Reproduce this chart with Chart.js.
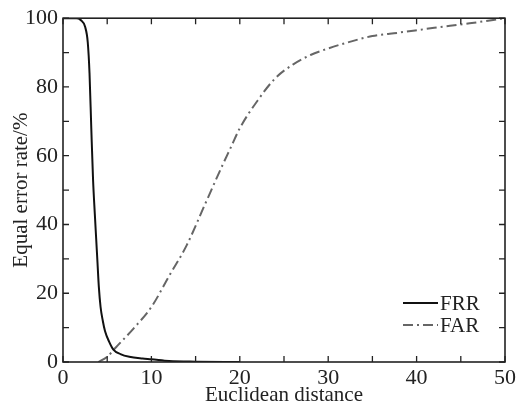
<!DOCTYPE html>
<html>
<head>
<meta charset="utf-8">
<script src="https://cdn.jsdelivr.net/npm/chart.js@4"></script>
<style>
  html, body { margin: 0; padding: 0; background: #fff; }
  #wrap { width: 519px; height: 408px; }
</style>
</head>
<body>
<div id="wrap"><canvas id="chart" width="519" height="408"></canvas></div>
<script>
// ---- data ----
const frrX = [0, 1.5, 2, 2.5, 2.8, 3.0, 3.2, 3.4, 3.6, 3.75, 3.9, 4.05, 4.25, 4.5, 4.75, 5.2, 5.7, 6.5, 7.5, 9, 10, 12, 15, 20];
const frrY = [100, 100, 99.5, 97.5, 93, 84, 68, 53, 43, 36, 29, 22, 16, 12, 9, 6, 3.6, 2.3, 1.5, 1.0, 0.8, 0.3, 0.1, 0];
const farX = [4, 5, 6, 8, 10, 12, 14, 16, 18, 19, 20, 22, 24, 26, 28, 30, 32, 35, 38, 42, 46, 50];
const farY = [0, 1.5, 4.3, 9.8, 16, 25, 34, 45.5, 57, 62.5, 68, 76, 82.5, 86.5, 89.3, 91.2, 92.8, 94.8, 95.8, 97.2, 98.5, 100];

const xTicks = [0, 10, 20, 30, 40, 50];
const yTicks = [0, 20, 40, 60, 80, 100];

const seriesNames = ['FRR', 'FAR'];
const FONT = '"Liberation Serif", "Times New Roman", serif';

function toPoints(xs, ys) {
  return xs.map((x, i) => ({ x: x, y: ys[i] }));
}

// frame + inward ticks on all four sides, plus the legend in the lower right
const framePlugin = {
  id: 'frame',
  afterDraw(chart) {
    const { ctx, chartArea: a, scales } = chart;
    const xs = scales.x, ys = scales.y;
    ctx.save();
    ctx.strokeStyle = '#222';
    ctx.lineWidth = 1.6;
    ctx.strokeRect(a.left, a.top, a.right - a.left, a.bottom - a.top);

    ctx.lineWidth = 1.3;
    const len = 6;
    ctx.beginPath();
    for (let v = 0; v <= 50; v += 5) {
      const px = xs.getPixelForValue(v);
      ctx.moveTo(px, a.bottom); ctx.lineTo(px, a.bottom - len);
      ctx.moveTo(px, a.top); ctx.lineTo(px, a.top + len);
    }
    for (let v = 0; v <= 100; v += 10) {
      const py = ys.getPixelForValue(v);
      ctx.moveTo(a.left, py); ctx.lineTo(a.left + len, py);
      ctx.moveTo(a.right, py); ctx.lineTo(a.right - len, py);
    }
    ctx.stroke();

    // legend
    const lx = a.right - 102, ly = a.bottom - 59;
    chart.data.datasets.forEach((ds, i) => {
      const y = ly + i * 22;
      ctx.beginPath();
      ctx.strokeStyle = ds.borderColor;
      ctx.lineWidth = ds.borderWidth;
      ctx.setLineDash(ds.borderDash || []);
      ctx.moveTo(lx, y);
      ctx.lineTo(lx + 35, y);
      ctx.stroke();
      ctx.setLineDash([]);
      ctx.fillStyle = '#222';
      ctx.font = '21px ' + FONT;
      ctx.textBaseline = 'middle';
      ctx.fillText(ds.label, lx + 37, y + 1);
    });
    ctx.restore();
  }
};

function createChart() {
  let ctx = document.getElementById('chart').getContext('2d');
  new Chart(ctx, {
    type: 'line',
    data: {
      datasets: [{
        label: seriesNames[0],
        data: toPoints(frrX, frrY),
        borderColor: '#111',
        borderWidth: 2,
        pointRadius: 0,
        cubicInterpolationMode: 'monotone',
        fill: false
      }, {
        label: seriesNames[1],
        data: toPoints(farX, farY),
        borderColor: '#666',
        borderWidth: 2,
        borderDash: [10, 4, 2, 4],
        pointRadius: 0,
        cubicInterpolationMode: 'monotone',
        fill: false
      }]
    },
    options: {
      responsive: false,
      animation: false,
      layout: { padding: { left: 0, top: 17, right: 12, bottom: 0 } },
      plugins: {
        legend: { display: false },
        tooltip: { enabled: false }
      },
      scales: {
        x: {
          type: 'linear',
          min: 0, max: 50,
          afterBuildTicks: s => { s.ticks = xTicks.map(v => ({ value: v })); },
          afterFit: s => { s.height = 46; },
          grid: { display: false, tickLength: 0 },
          border: { display: false },
          ticks: { color: '#222', padding: 3, maxRotation: 0, font: { family: FONT, size: 22 } },
          title: { display: true, text: 'Euclidean distance', color: '#222', padding: { top: -4, bottom: 0 }, font: { family: FONT, size: 21 } }
        },
        y: {
          min: 0, max: 100,
          afterBuildTicks: s => { s.ticks = yTicks.map(v => ({ value: v })); },
          afterFit: s => { s.width = 63; },
          grid: { display: false, tickLength: 0 },
          border: { display: false },
          ticks: { color: '#222', padding: 5, font: { family: FONT, size: 22 } },
          title: { display: true, text: 'Equal error rate/%', color: '#222', padding: { top: 9, bottom: 0 }, font: { family: FONT, size: 21 } }
        }
      }
    },
    plugins: [framePlugin]
  });
}

window.addEventListener('DOMContentLoaded', createChart);
</script>
</body>
</html>
